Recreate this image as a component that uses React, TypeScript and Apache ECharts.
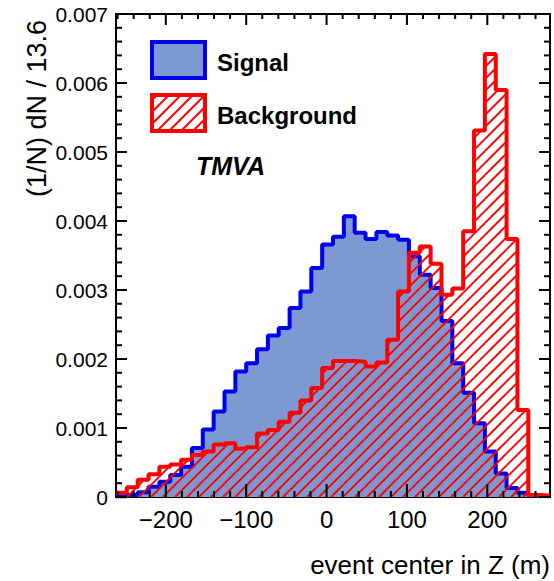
import React, { useEffect, useRef } from "react";
import * as echarts from "echarts";

// Histogram binning (event center in Z, metres)
const X_MIN = -262;
const X_MAX = 278;
const BIN_WIDTH = 13.5;
const N_BINS = 40;

// Normalised bin contents, (1/N) dN / 13.6
const signalValues = [
  0.00001, 0.00003, 0.00007, 0.00015, 0.00022, 0.00032, 0.00044, 0.00071, 0.00098, 0.00124,
  0.00153, 0.00182, 0.00194, 0.00214, 0.00234, 0.00245, 0.00274, 0.00298, 0.00332, 0.00366,
  0.00377, 0.00407, 0.00383, 0.00374, 0.00384, 0.00379, 0.00373, 0.00349, 0.00322, 0.00303,
  0.00255, 0.00194, 0.00151, 0.00107, 0.00066, 0.00034, 0.00013, 0.00006, 0.00002, 0.00001,
];
const backgroundValues = [
  0.00006, 0.00014, 0.00025, 0.00033, 0.00044, 0.00047, 0.00054, 0.00061, 0.00066, 0.00076,
  0.00078, 0.0007, 0.00072, 0.00092, 0.00097, 0.00109, 0.00122, 0.0014, 0.00158, 0.00187,
  0.00197, 0.00197, 0.00196, 0.00189, 0.00195, 0.00228, 0.00298, 0.00354, 0.00363, 0.00338,
  0.00293, 0.00302, 0.00385, 0.00531, 0.00642, 0.0059, 0.00374, 0.00126, 0.00003, 0.00002,
];

const xMajorTicks = [-200, -100, 0, 100, 200];
const xMinorTicks = [
  -260, -240, -220, -180, -160, -140, -120, -80, -60, -40, -20, 20, 40, 60, 80, 120, 140, 160, 180,
  220, 240, 260,
];
const yMajorTicks = [0, 0.001, 0.002, 0.003, 0.004, 0.005, 0.006, 0.007];
const yMinorTicks = [
  0.0002, 0.0004, 0.0006, 0.0008, 0.0012, 0.0014, 0.0016, 0.0018, 0.0022, 0.0024, 0.0026, 0.0028,
  0.0032, 0.0034, 0.0036, 0.0038, 0.0042, 0.0044, 0.0046, 0.0048, 0.0052, 0.0054, 0.0056, 0.0058,
  0.0062, 0.0064, 0.0066, 0.0068,
];
const Y_MIN = 0;
const Y_MAX = 0.007;
const Y_INTERVAL = 0.001;

const seriesNames = ["Signal", "Background"];
const xTitle = "event center in Z (m)";
const yTitle = "(1/N) dN / 13.6";
const tag = "TMVA";

const FONT = "'Liberation Sans', Arial, Helvetica, sans-serif";
const SIGNAL_FILL = "#7d99d1";
const SIGNAL_LINE = "#0000ee";
const BKG_LINE = "#ff0000";
const HATCH_STEP = 12;
const HATCH_WIDTH = 1.9;

function histPoints(values: number[]): [number, number][] {
  const pts: [number, number][] = [];
  for (let i = 0; i < N_BINS; i++) pts.push([X_MIN + i * BIN_WIDTH, values[i]]);
  pts.push([X_MIN + N_BINS * BIN_WIDTH, values[N_BINS - 1]]);
  return pts;
}

// "///" hatch lines (x + y = const, in pixels) clipped to a pixel rectangle
function hatchLines(l: number, r: number, top: number, bottom: number, color: string) {
  const out: any[] = [];
  if (r - l < 0.5 || bottom - top < 0.5) return out;
  const start = Math.ceil((l + top) / HATCH_STEP) * HATCH_STEP;
  for (let c = start; c <= r + bottom; c += HATCH_STEP) {
    const lo = Math.max(l, c - bottom);
    const hi = Math.min(r, c - top);
    if (hi - lo > 0.2) {
      out.push({
        type: "line",
        shape: { x1: lo, y1: c - lo, x2: hi, y2: c - hi },
        style: { stroke: color, lineWidth: HATCH_WIDTH },
      });
    }
  }
  return out;
}

function hatchSeries(values: number[]) {
  return {
    type: "custom",
    z: 3,
    data: values.map((v, i) => [X_MIN + i * BIN_WIDTH, v]),
    renderItem: (_p: any, api: any) => {
      const x0 = api.value(0);
      const v = api.value(1);
      const a = api.coord([x0, Y_MIN]);
      const b = api.coord([x0 + BIN_WIDTH, v]);
      return { type: "group", children: hatchLines(a[0], b[0], b[1], a[1], BKG_LINE) };
    },
  };
}

// frame ticks placed through the axes' scales (bottom / top edges)
function xTickSeries(vals: number[], atTop: boolean, len: number) {
  return {
    type: "custom",
    z: 20,
    data: vals.map((v) => [v, atTop ? Y_MAX : Y_MIN]),
    renderItem: (_p: any, api: any) => {
      const p = api.coord([api.value(0), api.value(1)]);
      const d = atTop ? len : -len;
      return {
        type: "line",
        shape: { x1: p[0], y1: p[1], x2: p[0], y2: p[1] + d },
        style: { stroke: "#000000", lineWidth: 2 },
      };
    },
  };
}

// frame ticks on left / right edges
function yTickSeries(vals: number[], atRight: boolean, len: number) {
  return {
    type: "custom",
    z: 20,
    data: vals.map((v) => [atRight ? X_MAX : X_MIN, v]),
    renderItem: (_p: any, api: any) => {
      const p = api.coord([api.value(0), api.value(1)]);
      const d = atRight ? -len : len;
      return {
        type: "line",
        shape: { x1: p[0], y1: p[1], x2: p[0] + d, y2: p[1] },
        style: { stroke: "#000000", lineWidth: 2 },
      };
    },
  };
}

export default function App() {
  const ref = useRef<HTMLDivElement>(null);
  useEffect(() => {
    if (!ref.current) return;
    const chart = echarts.init(ref.current, undefined, { renderer: "svg" });
    const LB = { x: 152, y: 95, w: 53, h: 36 };
    chart.setOption({
      animation: false,
      grid: {
        left: 116,
        right: 4,
        top: 14,
        bottom: 84,
        show: true,
        borderColor: "#000",
        borderWidth: 2,
        backgroundColor: "transparent",
      },
      xAxis: {
        type: "value",
        min: X_MIN,
        max: X_MAX,
        position: "bottom",
        splitLine: { show: false },
        axisLine: { show: true, onZero: false, lineStyle: { color: "#000", width: 2 } },
        axisTick: { show: false },
        axisLabel: {
          show: true,
          formatter: (v: number) =>
            xMajorTicks.indexOf(Math.round(v)) < 0 ? "" : v < 0 ? "\u2212" + Math.abs(v) : String(v),
          fontSize: 24,
          fontFamily: FONT,
          color: "#000",
          margin: 10,
        },
      },
      yAxis: {
        type: "value",
        min: Y_MIN,
        max: Y_MAX,
        interval: Y_INTERVAL,
        position: "left",
        splitLine: { show: false },
        axisLine: { show: true, onZero: false, lineStyle: { color: "#000", width: 2 } },
        axisTick: { show: false },
        axisLabel: {
          show: true,
          formatter: (v: number) => (v === 0 ? "0" : v.toFixed(3)),
          fontSize: 21,
          fontFamily: FONT,
          color: "#000",
          margin: 8,
        },
      },
      series: [
        {
          name: seriesNames[0],
          type: "line",
          step: "end",
          data: histPoints(signalValues),
          showSymbol: false,
          symbol: "none",
          lineStyle: { color: SIGNAL_LINE, width: 4 },
          areaStyle: { color: SIGNAL_FILL, opacity: 1 },
          z: 2,
        },
        hatchSeries(backgroundValues),
        {
          name: seriesNames[1],
          type: "line",
          step: "end",
          data: histPoints(backgroundValues),
          showSymbol: false,
          symbol: "none",
          lineStyle: { color: BKG_LINE, width: 4 },
          z: 4,
        },
        xTickSeries(xMajorTicks, false, 13),
        xTickSeries(xMajorTicks, true, 11),
        xTickSeries(xMinorTicks, false, 6),
        xTickSeries(xMinorTicks, true, 5),
        yTickSeries(yMajorTicks, false, 11),
        yTickSeries(yMajorTicks, true, 11),
        yTickSeries(yMinorTicks, false, 6),
        yTickSeries(yMinorTicks, true, 6),
      ],
      graphic: [
        {
          type: "rect",
          shape: { x: 152, y: 42, width: 53, height: 36 },
          style: { fill: SIGNAL_FILL, stroke: SIGNAL_LINE, lineWidth: 4 },
          z: 10,
        },
        {
          type: "group",
          z: 10,
          children: hatchLines(LB.x, LB.x + LB.w, LB.y, LB.y + LB.h, BKG_LINE),
        },
        {
          type: "rect",
          shape: { x: LB.x, y: LB.y, width: LB.w, height: LB.h },
          style: { fill: "none", stroke: BKG_LINE, lineWidth: 4 },
          z: 11,
        },
        {
          type: "text",
          x: 217,
          y: 62,
          style: { text: seriesNames[0], font: `bold 24px ${FONT}`, fill: "#000", verticalAlign: "middle" },
          z: 10,
        },
        {
          type: "text",
          x: 217,
          y: 115,
          style: { text: seriesNames[1], font: `bold 24px ${FONT}`, fill: "#000", verticalAlign: "middle" },
          z: 10,
        },
        {
          type: "text",
          x: 196,
          y: 166,
          style: { text: tag, font: `italic bold 25px ${FONT}`, fill: "#000", verticalAlign: "middle" },
          z: 10,
        },
        {
          type: "text",
          x: 550,
          y: 565,
          style: { text: xTitle, font: `26px ${FONT}`, fill: "#000", align: "right", verticalAlign: "middle" },
          z: 10,
        },
        {
          type: "text",
          x: 37,
          y: 20,
          rotation: Math.PI / 2,
          style: { text: yTitle, font: `27px ${FONT}`, fill: "#000", align: "right", verticalAlign: "middle" },
          z: 10,
        },
      ],
    });
    return () => chart.dispose();
  }, []);
  return <div ref={ref} style={{ width: 554, height: 581, position: "absolute", left: 0, top: 0 }} />;
}
